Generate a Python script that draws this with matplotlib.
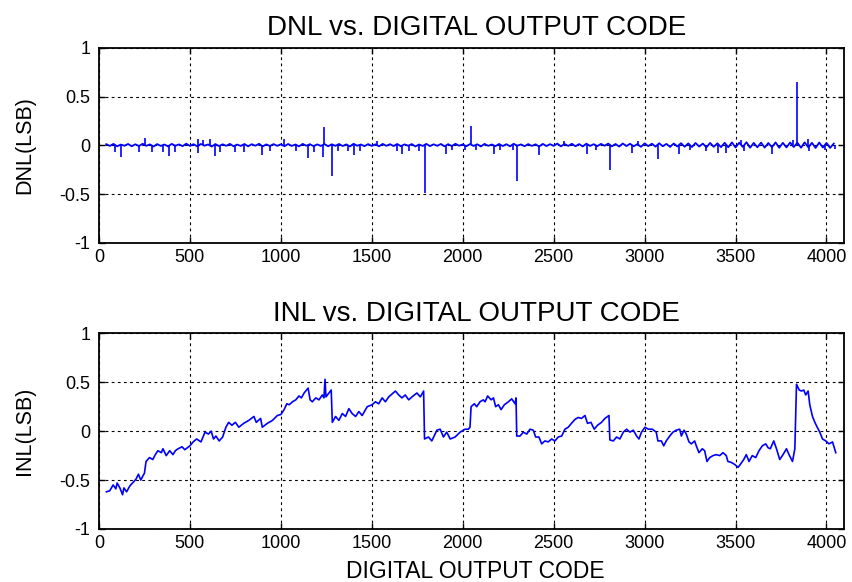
import matplotlib
matplotlib.use("Agg")
import matplotlib.pyplot as plt
import numpy as np

plt.rcParams['font.family'] = ['Liberation Sans', 'DejaVu Sans']

# DNL baseline, one value every 20 codes from 40 to 4040 (LSB)
dnl_start = 40
dnl_step = 20
dnl_base = [
    0.012, -0.006, 0.015, -0.010, 0.008, -0.004, 0.014, -0.009, 0.011, -0.007,
    0.016, -0.005, 0.010, -0.012, 0.013, -0.006, 0.009, -0.011, 0.015, -0.004,
    0.010, -0.008, 0.017, -0.006, 0.012, -0.010, 0.014, -0.003, 0.009, -0.012,
    0.013, -0.007, 0.011, -0.005, 0.015, -0.009, 0.008, -0.006, 0.014, -0.010,
    0.012, -0.004, 0.016, -0.011, 0.010, -0.007, 0.013, -0.005, 0.011, -0.009,
    0.014, -0.006, 0.009, -0.010, 0.015, -0.004, 0.012, -0.008, 0.010, -0.006,
    0.013, -0.009, 0.011, -0.005, 0.014, -0.007, 0.010, -0.011, 0.016, -0.004,
    0.009, -0.008, 0.013, -0.006, 0.011, -0.010, 0.015, -0.005, 0.012, -0.007,
    0.014, -0.009, 0.010, -0.004, 0.013, -0.011, 0.009, -0.006, 0.015, -0.008,
    0.011, -0.005, 0.014, -0.010, 0.012, -0.007, 0.016, -0.004, 0.010, -0.009,
    0.013, -0.006, 0.011, -0.011, 0.015, -0.005, 0.009, -0.008, 0.014, -0.007,
    0.012, -0.010, 0.016, -0.004, 0.010, -0.009, 0.013, -0.006, 0.011, -0.012,
    0.015, -0.007, 0.012, -0.005, 0.018, -0.010, 0.014, -0.006, 0.016, -0.009,
    0.013, -0.011, 0.017, -0.006, 0.012, -0.008, 0.015, -0.004, 0.018, -0.010,
    0.014, -0.012, 0.019, -0.007, 0.016, -0.010, 0.013, -0.015, 0.020, -0.008,
    0.017, -0.013, 0.021, -0.009, 0.015, -0.016, 0.019, -0.011, 0.022, -0.014,
    0.020, -0.017, 0.024, -0.012, 0.018, -0.020, 0.025, -0.015, 0.021, -0.018,
    0.026, -0.019, 0.030, -0.022, 0.027, -0.016, 0.032, -0.024, 0.025, -0.020,
    0.028, -0.023, 0.024, -0.018, 0.030, -0.025, 0.026, -0.021, 0.029, -0.017,
    0.027, -0.024, 0.031, -0.020, 0.026, -0.027, 0.029, -0.022, 0.025, -0.026,
    0.018,
]

# single-code DNL spikes (code, LSB)
spike_codes = [
    90, 123, 218, 251, 292, 352, 387, 420, 543, 547, 572, 612, 636, 667, 750,
    800, 896, 942, 1018, 1084, 1147, 1180, 1231, 1236, 1281, 1312, 1372, 1403,
    1436, 1528, 1638, 1665, 1702, 1762, 1790, 1909, 1942, 2010, 2046, 2074,
    2171, 2207, 2275, 2297, 2422, 2556, 2684, 2734, 2810, 2932, 2963, 3072,
    3188, 3247, 3335, 3403, 3449, 3528, 3546, 3702, 3816, 3836, 3898, 3904,
    3990, 4045,
]
spike_vals = [
    -0.07, -0.12, -0.07, 0.08, -0.07, -0.07, -0.11, -0.07, 0.07, -0.08, 0.05,
    0.06, -0.11, -0.07, -0.07, -0.07, -0.10, -0.06, 0.06, -0.06, -0.13, -0.07,
    -0.12, 0.19, -0.31, -0.06, -0.06, -0.10, -0.06, 0.04, -0.06, -0.09, -0.06,
    -0.06, -0.485, -0.09, -0.05, -0.05, 0.20, -0.05, -0.09, -0.05, -0.05,
    -0.37, -0.10, 0.04, -0.09, -0.05, -0.25, -0.08, 0.04, -0.14, -0.09, -0.05,
    -0.06, -0.08, -0.08, 0.05, -0.06, -0.09, 0.05, 0.645, 0.06, -0.06, -0.05,
    -0.04,
]

# INL (code, LSB)
inl_codes = [
    41, 59, 78, 93, 100, 115, 130, 137, 152, 170, 189, 204, 217, 230, 241,
    250, 259, 278, 296, 310, 324, 343, 352, 370, 389, 407, 420, 435, 457, 472,
    500, 518, 537, 561, 583, 602, 617, 630, 643, 661, 680, 698, 713, 731, 750,
    769, 796, 824, 852, 865, 889, 898, 926, 954, 981, 1000, 1018, 1033, 1046,
    1064, 1082, 1100, 1113, 1128, 1150, 1161, 1173, 1192, 1210, 1228, 1237,
    1243, 1248, 1265, 1277, 1283, 1301, 1319, 1338, 1356, 1374, 1392, 1411,
    1429, 1447, 1475, 1502, 1520, 1538, 1557, 1575, 1593, 1630, 1648, 1666,
    1684, 1703, 1721, 1748, 1767, 1785, 1790, 1812, 1830, 1858, 1876, 1894,
    1912, 1931, 1958, 1986, 2013, 2031, 2040, 2046, 2064, 2077, 2095, 2113,
    2123, 2137, 2156, 2169, 2181, 2196, 2211, 2229, 2251, 2269, 2288, 2293,
    2297, 2315, 2333, 2352, 2370, 2388, 2401, 2419, 2434, 2452, 2470, 2489,
    2507, 2525, 2544, 2562, 2580, 2598, 2617, 2635, 2653, 2672, 2686, 2705,
    2723, 2741, 2763, 2782, 2804, 2809, 2828, 2846, 2864, 2883, 2901, 2919,
    2938, 2956, 2969, 2983, 3002, 3020, 3042, 3064, 3073, 3092, 3105, 3119,
    3138, 3156, 3174, 3193, 3202, 3217, 3229, 3244, 3257, 3275, 3284, 3299,
    3317, 3330, 3343, 3358, 3376, 3394, 3413, 3431, 3449, 3458, 3477, 3495,
    3514, 3526, 3545, 3559, 3574, 3592, 3611, 3629, 3647, 3666, 3679, 3691,
    3710, 3725, 3743, 3761, 3780, 3794, 3813, 3826, 3835, 3850, 3862, 3875,
    3886, 3899, 3908, 3923, 3936, 3949, 3963, 3978, 3996, 4014, 4033, 4051,
]
inl_vals = [
    -0.62, -0.61, -0.55, -0.59, -0.53, -0.58, -0.65, -0.58, -0.62, -0.56,
    -0.52, -0.49, -0.44, -0.50, -0.46, -0.43, -0.31, -0.27, -0.29, -0.24,
    -0.20, -0.22, -0.18, -0.25, -0.20, -0.24, -0.20, -0.18, -0.16, -0.19,
    -0.15, -0.11, -0.08, -0.11, -0.01, -0.03, 0.00, -0.08, -0.05, -0.10,
    -0.06, 0.04, 0.09, 0.06, 0.09, 0.04, 0.08, 0.11, 0.15, 0.09,
    0.13, 0.04, 0.08, 0.11, 0.16, 0.17, 0.22, 0.28, 0.27, 0.30,
    0.32, 0.36, 0.34, 0.39, 0.44, 0.32, 0.30, 0.34, 0.32, 0.37,
    0.34, 0.53, 0.35, 0.39, 0.42, 0.09, 0.15, 0.11, 0.18, 0.15,
    0.23, 0.18, 0.15, 0.20, 0.16, 0.25, 0.27, 0.30, 0.28, 0.34,
    0.30, 0.35, 0.41, 0.37, 0.34, 0.37, 0.32, 0.35, 0.39, 0.35,
    0.41, -0.08, -0.06, -0.10, 0.01, 0.02, -0.06, -0.01, -0.08, -0.06,
    -0.01, 0.02, 0.02, 0.04, 0.25, 0.28, 0.25, 0.30, 0.32, 0.30,
    0.36, 0.32, 0.34, 0.25, 0.27, 0.22, 0.27, 0.30, 0.33, 0.28,
    0.34, -0.05, -0.05, -0.01, -0.03, 0.02, 0.01, -0.06, -0.06, -0.13,
    -0.10, -0.11, -0.08, -0.10, -0.06, -0.05, 0.02, 0.04, 0.08, 0.12,
    0.14, 0.13, 0.16, 0.08, 0.09, 0.02, 0.06, 0.09, 0.13, 0.16,
    -0.09, -0.10, -0.06, -0.08, -0.01, 0.02, -0.01, 0.01, -0.05, -0.08,
    -0.01, 0.04, 0.02, 0.02, -0.01, -0.10, -0.10, -0.15, -0.10, -0.05,
    -0.01, 0.01, 0.02, -0.05, 0.01, -0.03, -0.11, -0.13, -0.10, -0.15,
    -0.22, -0.18, -0.20, -0.31, -0.27, -0.25, -0.24, -0.25, -0.22, -0.25,
    -0.31, -0.32, -0.34, -0.37, -0.34, -0.29, -0.24, -0.31, -0.25, -0.27,
    -0.20, -0.15, -0.13, -0.17, -0.18, -0.10, -0.18, -0.29, -0.24, -0.18,
    -0.24, -0.31, -0.18, 0.48, 0.42, 0.41, 0.42, 0.37, 0.41, 0.27,
    0.15, 0.09, 0.04, -0.01, -0.08, -0.10, -0.13, -0.11, -0.22,
]

x_ticks = [0, 500, 1000, 1500, 2000, 2500, 3000, 3500, 4000]
y_ticks = [-1, -0.5, 0, 0.5, 1]
y_ticklabels = ['-1', '-0.5', '0', '0.5', '1']

dnl_codes = dnl_start + dnl_step * np.arange(len(dnl_base))

fig = plt.figure(figsize=(8.53, 5.82), dpi=100)
ax1 = fig.add_axes([0.116, 0.5825, 0.8734, 0.3355])
ax2 = fig.add_axes([0.116, 0.0911, 0.8734, 0.3362])

blue = '#0000ff'
ax1.plot(dnl_codes, dnl_base, color=blue, lw=1.3)
ax1.vlines(spike_codes, 0, spike_vals, color=blue, lw=1.2)
ax2.plot(inl_codes, inl_vals, color=blue, lw=1.2)

panels = [
    (ax1, 'DNL vs. DIGITAL OUTPUT CODE', 'DNL(LSB)'),
    (ax2, 'INL vs. DIGITAL OUTPUT CODE', 'INL(LSB)'),
]
for ax, title, ylabel in panels:
    ax.set_xlim(0, 4096)
    ax.set_ylim(-1, 1)
    ax.set_xticks(x_ticks)
    ax.set_yticks(y_ticks)
    ax.set_yticklabels(y_ticklabels)
    ax.grid(True, color='black', linestyle=(0, (2.5, 3)), linewidth=0.8)
    ax.tick_params(direction='in', top=True, right=True, length=4,
                   width=1.0, labelsize=13, pad=4)
    ax.tick_params(axis='y', pad=6)
    for sp in ax.spines.values():
        sp.set_linewidth(1.3)
    ax.set_title(title, fontsize=20, pad=9, x=0.507)
    ax.set_ylabel(ylabel, fontsize=15.5)
    ax.yaxis.set_label_coords(-0.086, 0.5)

ax2.set_xlabel('DIGITAL OUTPUT CODE', fontsize=16.5)
ax2.xaxis.set_label_coords(0.505, -0.158)

fig.savefig('out.png', dpi=100)
